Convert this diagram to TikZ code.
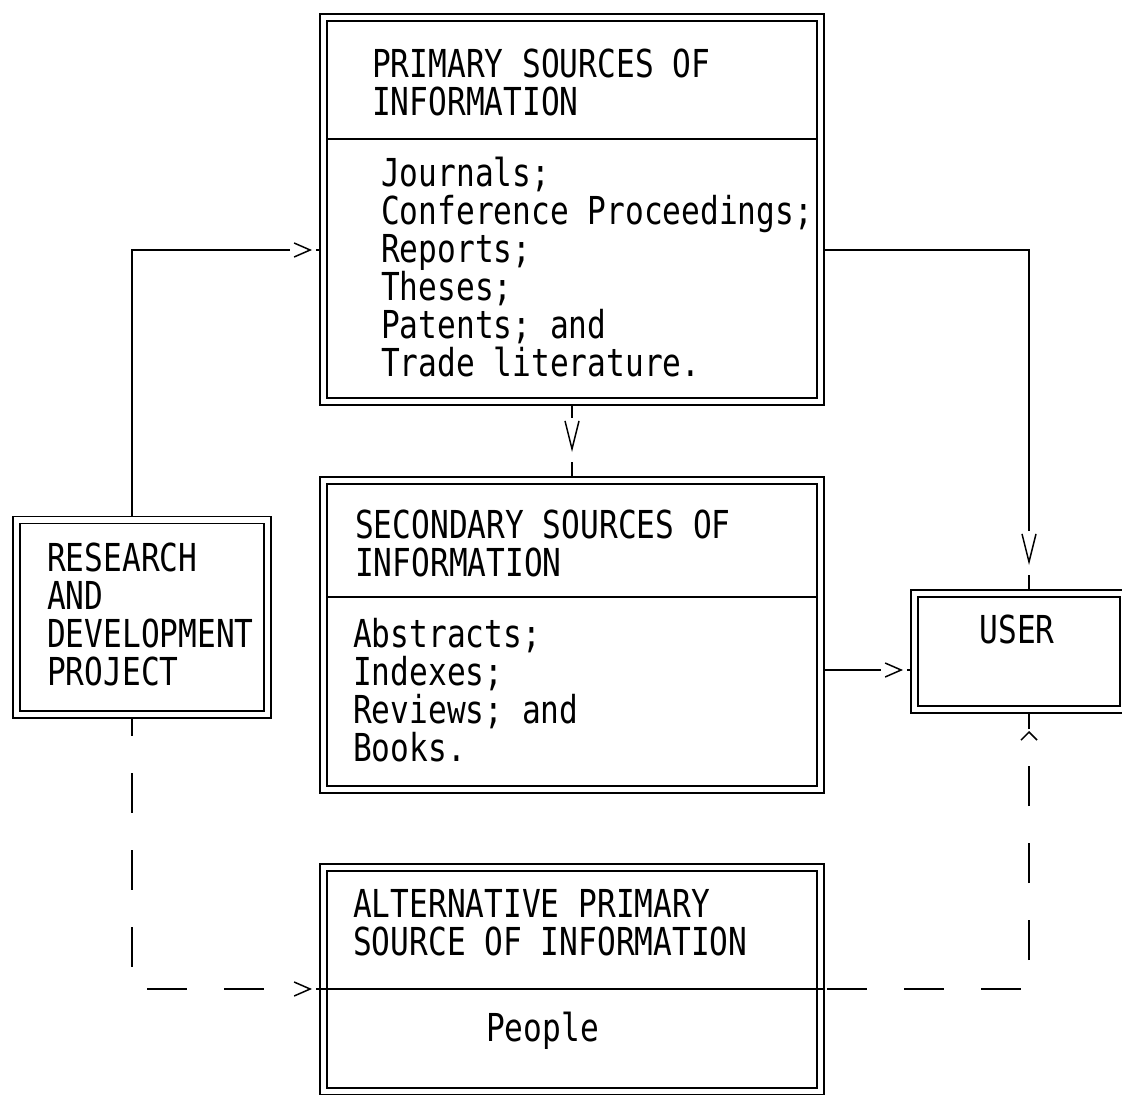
\documentclass[tikz,border=0pt]{standalone}
\usepackage{fontspec}
\newfontfamily\plotfont[FakeStretch=0.81]{DejaVu Sans Mono}
\usetikzlibrary{arrows.meta,decorations.markings}

\tikzset{
  box/.style={draw, double, double distance=5.4pt, line width=1.6pt,
    outer sep=3.5pt, inner sep=0pt},
  txt/.style={anchor=north west, inner sep=0pt, align=left,
    font=\plotfont\fontsize{38.5}{38}\selectfont\frenchspacing},
  link/.style={line width=1.5pt},
  broken/.style={link, dash pattern=on 40pt off 37pt, dash phase=#1},
  % head: apex position from the end, tip length, gap after the tip
  head/.style n args={3}{postaction=decorate, decoration={markings,
    mark=at position -#1 with {\fill[white] (-#2-6pt,-2.5pt) rectangle (#3,2.5pt);
      \arrow{Straight Barb[length=#2,width=14pt]}}}},
  caret/.style={postaction=decorate, decoration={markings,
    mark=at position -18pt with {\arrow{Straight Barb[length=8pt,width=16pt]}}}}
}

\begin{document}
\begin{tikzpicture}[x=1pt, y=-1pt]
    \useasboundingbox (0,0) rectangle (1122,1095);

    % boxes
    \node[box, minimum width=497pt, minimum height=384pt] (prim) at (572,209.5) {};
    \node[box, minimum width=497pt, minimum height=309pt] (sec) at (572,635) {};
    \node[box, minimum width=497pt, minimum height=224pt] (alt) at (572,979.5) {};
    \node[box, minimum width=251pt, minimum height=194.5pt] (rd) at (142,617.25) {};
    \node[box, minimum width=209pt, minimum height=116pt] (user) at (1019,651.5) {};

    % dividers
    \draw[link] (327,139) -- (817,139);
    \draw[link] (327,597) -- (817,597);
    \draw[link] (alt.west |- 0,989) -- (alt.east |- 0,989);

    % texts
    \node[txt] (primtitle) at (372,49) {PRIMARY SOURCES OF\\INFORMATION};
    \node[txt] (primlist) at (381,157) {Journals;\\Conference Proceedings;\\Reports;\\Theses;\\Patents; and\\Trade literature.};
    \node[txt] (sectitle) at (355,510) {SECONDARY SOURCES OF\\INFORMATION};
    \node[txt] (seclist) at (353,618) {Abstracts;\\Indexes;\\Reviews; and\\Books.};
    \node[txt] (alttitle) at (353,889) {ALTERNATIVE PRIMARY\\SOURCE OF INFORMATION};
    \node[txt] (altlist) at (486,1012) {People};
    \node[txt] (rdtext) at (47,543) {RESEARCH\\AND\\DEVELOPMENT\\PROJECT};
    \node[txt, anchor=north] (usertext) at (1017,615) {USER};

    % flows
    \draw[link, head={8pt}{16pt}{4pt}] ([xshift=-10pt]rd.north) |- (prim.west |- 0,250);
    \draw[link, head={25pt}{28pt}{10pt}] (prim.east |- 0,250) -| (user.north -| 1029,0);
    \draw[link, head={25pt}{28pt}{10pt}] (prim.south) -- (sec.north);
    \draw[link, head={8pt}{16pt}{4pt}] (sec.east |- 0,670) -- (user.west |- 0,670);
    \draw[broken=22pt, head={8pt}{16pt}{4pt}] ([xshift=-10pt]rd.south) |- (alt.west |- 0,989);
    \draw[broken=74pt, caret] (alt.east |- 0,989) -| (user.south -| 1029,0);
\end{tikzpicture}
\end{document}
